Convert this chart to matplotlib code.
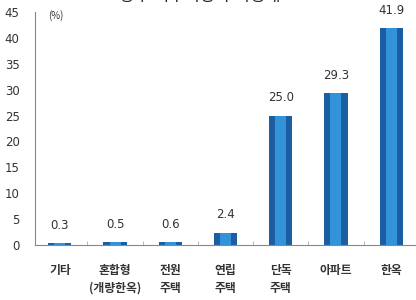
import matplotlib
matplotlib.use("Agg")
import matplotlib.pyplot as plt
from matplotlib.ticker import MultipleLocator

categories = ["기타", "혼합형\n(개량한옥)", "전원\n주택", "연립\n주택", "단독\n주택", "아파트", "한옥"]
values = [0.3, 0.5, 0.6, 2.4, 25.0, 29.3, 41.9]
value_labels = ["0.3", "0.5", "0.6", "2.4", "25.0", "29.3", "41.9"]
yticks = [0, 5, 10, 15, 20, 25, 30, 35, 40, 45]

plt.rcParams['font.family'] = ['Noto Sans CJK KR', 'DejaVu Sans']

fig = plt.figure(figsize=(4.16, 3.0), dpi=100)
ax = fig.add_axes([35/416, 55/300, 1 - 35/416, 233/300])

x = list(range(len(categories)))
ax.bar(x, values, width=0.42, color="#1d5ea2", zorder=2)
ax.bar(x, values, width=0.2, color="#3393d8", zorder=3)

ax.set_xlim(-0.45, 6.45)
ax.set_ylim(0, 45)
ax.set_yticks(yticks)
ax.set_yticklabels([str(v) for v in yticks], family=['Liberation Sans Narrow', 'DejaVu Sans'],
                   fontsize=8.5, color="#333333")
ax.yaxis.set_minor_locator(MultipleLocator(5))
ax.tick_params(axis='y', which='major', length=0, pad=11)

ax.set_xticks(x)
ax.set_xticklabels(categories, fontsize=8.5, color="#333333", fontweight='bold', linespacing=1.45)
ax.tick_params(axis='x', which='major', length=0, pad=14)
ax.set_xticks([i + 0.5 for i in x[:-1]], minor=True)
ax.tick_params(axis='x', which='minor', direction='in', length=3, color="#aaaaaa")
ax.tick_params(axis='y', which='minor', direction='in', length=2, color="#bbbbbb")

for xi, v, lab in zip(x, values, value_labels):
    ax.text(xi, v + 2.2, lab, ha='center', va='bottom', fontsize=8.5, color="#333333",
            family=['Liberation Sans Narrow', 'DejaVu Sans'])

for s in ['top', 'right']:
    ax.spines[s].set_visible(False)
ax.spines['left'].set_color("#888888")
ax.spines['bottom'].set_color("#888888")
ax.spines['left'].set_linewidth(0.8)
ax.spines['bottom'].set_linewidth(0.8)

fig.text(48/416, 1 - 16/300, "(%)", fontsize=7, color="#333333", ha='left', va='center')
fig.text(200/416, 1 + 4/300, "<향후 거주희망 주거형태>", fontsize=12, color="#222222",
         ha='center', va='center')

fig.savefig("out.png", dpi=100)
